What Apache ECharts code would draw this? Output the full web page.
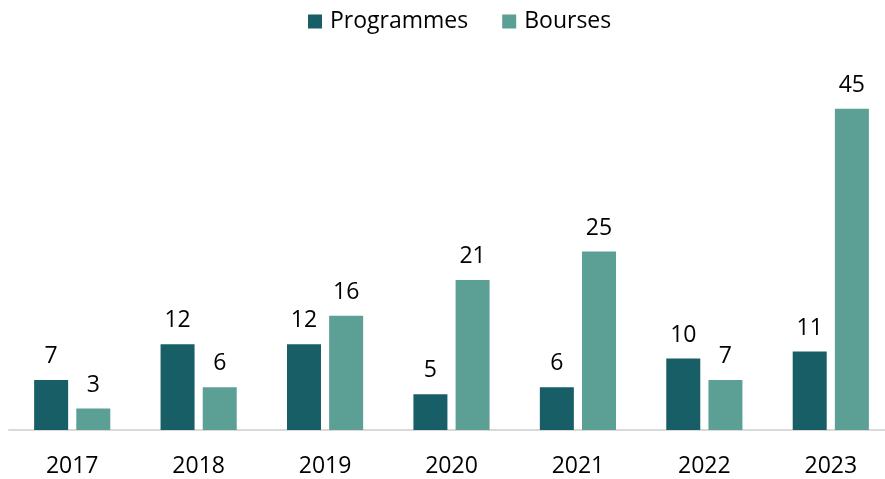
<!DOCTYPE html>
<html>
<head>
<meta charset="utf-8">
<script src="https://cdn.jsdelivr.net/npm/echarts@6/dist/echarts.min.js"></script>
<style>
  html, body { margin: 0; padding: 0; background: #fff; overflow: hidden; }
  #chart { width: 894px; height: 479px; }
</style>
</head>
<body>
<div id="chart"></div>
<script>
// données
var years = ['2017', '2018', '2019', '2020', '2021', '2022', '2023'];
var programmes = [7, 12, 12, 5, 6, 10, 11];
var bourses = [3, 6, 16, 21, 25, 7, 45];

var chart = echarts.init(document.getElementById('chart'));

var labelStyle = {
  show: true,
  position: 'top',
  distance: 12,
  color: '#000',
  fontSize: 23,
  fontFamily: 'Open Sans'
};

chart.setOption({
  animation: false,
  textStyle: { fontFamily: 'Open Sans' },
  legend: {
    top: 5,
    left: 303,
    itemWidth: 14,
    itemHeight: 14,
    itemGap: 34,
    icon: 'rect',
    textStyle: { fontSize: 23, color: '#000', padding: [0, 0, 0, 3] },
    data: ['Programmes', 'Bourses']
  },
  grid: {
    left: 9,
    right: 0,
    top: 73,
    bottom: 49,
    outerBoundsMode: 'none',
    containLabel: false
  },
  xAxis: {
    type: 'category',
    data: years,
    axisLine: { lineStyle: { color: '#d9d9d9', width: 2 } },
    axisTick: { show: false },
    axisLabel: { color: '#000', fontSize: 23, margin: 25 }
  },
  yAxis: {
    type: 'value',
    min: 0,
    max: 50,
    show: false,
    splitLine: { show: false }
  },
  series: [
    {
      name: 'Programmes',
      type: 'bar',
      data: programmes,
      barWidth: 34,
      barGap: '24%',
      itemStyle: { color: '#175e66' },
      label: labelStyle
    },
    {
      name: 'Bourses',
      type: 'bar',
      data: bourses,
      barWidth: 34,
      itemStyle: { color: '#5b9f95' },
      label: labelStyle
    }
  ]
});
</script>
</body>
</html>
